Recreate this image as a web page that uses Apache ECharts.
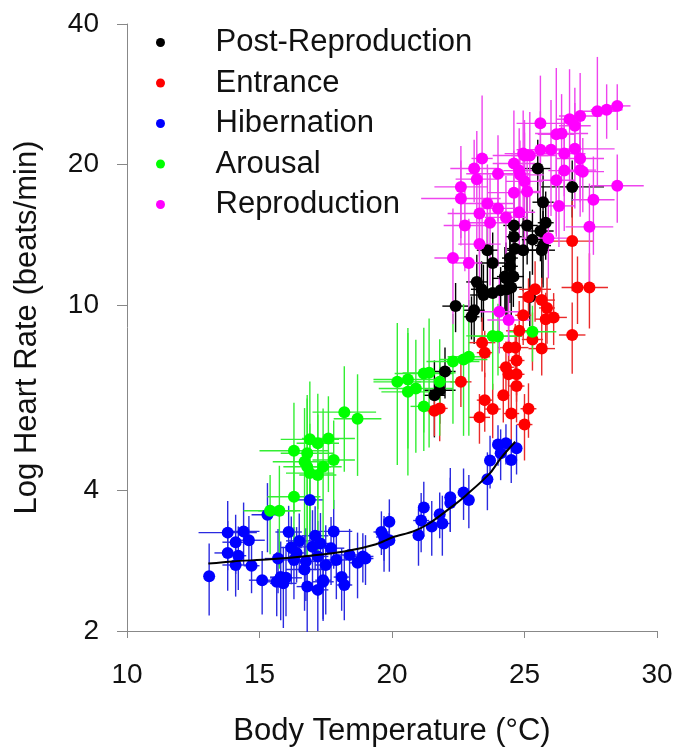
<!DOCTYPE html>
<html><head><meta charset="utf-8">
<script src="https://cdn.jsdelivr.net/npm/echarts@6/dist/echarts.min.js"></script>
<style>html,body{margin:0;padding:0;background:#fff}#c{width:678px;height:751px}</style>
</head><body><div id="c"></div>
<script>
// Each point: [body temperature °C, heart rate beats/min, ± temperature error, ± heart-rate error]
const seriesNames = ['Post-Reproduction', 'Entrance', 'Hibernation', 'Arousal', 'Reproduction'];

const postReproduction = [
  [22.4, 9.94, 0.5, 1.2], [23.1, 9.74, 0.4, 1.5], [23.0, 9.43, 0.3, 1.0], [23.8, 12.3, 0.6, 2.0],
  [23.2, 11.2, 0.4, 1.6], [23.8, 10.6, 0.3, 1.8], [24.3, 11.4, 0.5, 2.2], [24.5, 10.9, 0.4, 1.5],
  [24.1, 10.75, 0.3, 1.3], [25.2, 10.4, 0.4, 1.4], [23.45, 10.5, 0.5, 1.7], [24.45, 12.1, 0.3, 2.0],
  [22.0, 7.2, 0.4, 0.9], [21.6, 6.4, 0.4, 1.2], [21.8, 6.56, 0.6, 1.0], [25.5, 19.6, 0.5, 3.0],
  [26.8, 17.9, 1.2, 2.5], [25.7, 16.6, 0.4, 3.0], [25.8, 15.0, 0.3, 2.5], [24.6, 14.8, 0.4, 2.8],
  [25.6, 14.4, 0.5, 2.0], [25.7, 13.4, 0.3, 2.5], [25.3, 13.8, 0.4, 2.2], [23.6, 13.1, 0.4, 2.6],
  [24.45, 12.6, 0.3, 1.8], [24.95, 13.1, 0.6, 2.4], [24.34, 10.8, 0.3, 1.4], [23.38, 10.8, 0.4, 1.6],
  [24.64, 13.2, 0.3, 2.0], [25.1, 14.8, 0.4, 2.6], [24.6, 14.0, 0.3, 2.2], [25.65, 13.1, 0.5, 2.0],
  [24.26, 11.5, 0.3, 1.8], [24.58, 11.5, 0.4, 1.6]
];

const entrance = [
  [27.0, 10.9, 0.6, 1.8], [27.45, 10.9, 0.7, 2.0], [26.8, 8.62, 0.5, 1.5], [26.1, 9.4, 0.5, 1.2],
  [25.8, 9.32, 0.4, 1.3], [25.85, 9.85, 0.3, 1.6], [25.65, 10.24, 0.5, 1.2], [25.4, 10.8, 0.6, 1.6],
  [25.65, 8.06, 0.5, 1.0], [25.3, 8.43, 0.4, 1.2], [24.95, 9.5, 0.3, 1.3], [25.15, 10.4, 0.4, 1.0],
  [23.4, 8.3, 0.5, 1.1], [23.5, 7.9, 0.3, 0.9], [24.4, 8.1, 0.4, 1.4], [24.65, 8.1, 0.5, 1.0],
  [24.7, 7.6, 0.3, 1.2], [24.3, 7.35, 0.3, 1.0], [24.4, 7.1, 0.2, 1.3], [24.7, 7.1, 0.3, 0.9],
  [24.7, 6.7, 0.3, 1.1], [24.2, 6.4, 0.2, 0.8], [23.5, 6.25, 0.3, 0.9], [23.8, 5.98, 0.3, 0.8],
  [23.3, 5.74, 0.4, 0.7], [24.5, 5.85, 0.3, 0.9], [25.15, 5.99, 0.3, 0.8], [25.0, 5.54, 0.3, 0.9],
  [24.8, 8.8, 0.5, 1.4], [26.8, 13.7, 0.8, 3.0], [21.6, 5.93, 0.3, 0.7], [21.8, 6.0, 0.3, 0.9],
  [22.6, 6.84, 0.4, 0.8]
];

const hibernation = [
  [13.1, 2.62, 0.1, 0.46], [13.8, 3.25, 1.1, 0.55], [14.4, 3.27, 0.6, 0.5], [14.1, 3.10, 0.5, 0.45],
  [14.6, 3.13, 0.6, 0.4], [13.8, 2.94, 0.5, 0.5], [14.2, 2.90, 0.3, 0.45], [14.1, 2.77, 0.5, 0.4],
  [14.7, 2.76, 0.3, 0.35], [15.1, 2.57, 0.5, 0.4], [15.3, 3.55, 0.6, 0.6], [15.8, 2.61, 0.4, 0.5],
  [16.0, 2.60, 0.6, 0.45], [15.7, 2.86, 0.5, 0.45], [16.2, 3.02, 0.4, 0.5], [16.5, 3.12, 0.5, 0.45],
  [16.7, 2.71, 0.7, 0.5], [16.4, 2.94, 0.3, 0.4], [16.9, 3.82, 0.5, 0.7], [17.0, 3.03, 0.6, 0.6],
  [17.2, 2.89, 0.4, 0.55], [17.3, 3.08, 0.5, 0.5], [17.5, 2.77, 0.4, 0.6], [17.4, 2.57, 0.3, 0.45],
  [17.8, 3.27, 0.7, 0.55], [17.9, 2.84, 0.4, 0.5], [18.1, 2.61, 0.3, 0.4], [18.4, 2.91, 0.5, 0.4],
  [18.7, 2.80, 0.3, 0.45], [18.9, 2.89, 0.4, 0.35], [19.6, 3.26, 0.3, 0.35], [19.7, 3.08, 0.3, 0.4],
  [19.9, 3.43, 0.2, 0.4], [19.7, 3.18, 0.3, 0.35], [19.9, 3.13, 0.2, 0.45], [21.0, 3.21, 0.2, 0.45],
  [21.2, 3.68, 0.2, 0.5], [21.1, 3.45, 0.3, 0.5], [21.5, 3.35, 0.2, 0.45], [21.8, 3.56, 0.2, 0.4],
  [21.9, 3.40, 0.3, 0.5], [22.2, 3.87, 0.2, 0.6], [22.2, 3.76, 0.2, 0.5], [22.7, 3.96, 0.2, 0.5],
  [22.9, 3.82, 0.2, 0.5], [23.6, 4.23, 0.2, 0.6], [23.7, 4.64, 0.2, 0.6], [24.0, 5.02, 0.2, 0.5],
  [24.1, 4.81, 0.2, 0.6], [24.5, 4.65, 0.2, 0.5], [24.7, 4.93, 0.2, 0.6], [24.3, 5.05, 0.2, 0.5],
  [16.75, 2.82, 0.5, 0.5], [17.2, 2.45, 0.4, 0.45], [17.7, 3.01, 0.5, 0.5], [16.8, 2.49, 0.4, 0.5],
  [18.2, 2.51, 0.3, 0.4], [15.65, 2.55, 0.4, 0.4], [15.9, 2.53, 0.5, 0.5], [17.4, 2.55, 0.4, 0.45],
  [19.0, 2.86, 0.3, 0.35], [16.3, 2.84, 0.4, 0.5], [17.1, 3.20, 0.5, 0.5], [16.1, 3.26, 0.5, 0.45]
];

const arousal = [
  [15.4, 3.62, 1.0, 0.7], [15.75, 3.62, 0.8, 0.9], [16.3, 3.88, 1.0, 1.0], [16.9, 4.36, 0.9, 1.2],
  [17.2, 4.32, 0.7, 1.5], [18.2, 5.89, 1.2, 1.5], [18.7, 5.70, 0.9, 1.4], [16.3, 4.87, 1.3, 1.3],
  [16.9, 5.15, 1.1, 1.7], [17.2, 5.05, 0.8, 1.4], [17.6, 5.17, 1.0, 1.2], [16.7, 4.61, 1.2, 1.4],
  [16.8, 4.50, 0.9, 1.8], [17.4, 4.50, 0.7, 1.5], [17.8, 4.65, 0.8, 1.0], [16.8, 4.81, 1.0, 1.6],
  [20.2, 6.84, 0.9, 2.3], [20.6, 6.92, 1.3, 2.0], [20.9, 6.62, 1.4, 1.8], [20.6, 6.51, 1.0, 2.2],
  [21.2, 7.13, 1.1, 1.8], [21.4, 7.15, 1.0, 2.2], [21.8, 6.84, 0.9, 1.6], [22.3, 7.56, 1.0, 2.0],
  [22.7, 7.64, 0.9, 2.4], [22.9, 7.74, 0.8, 2.5], [21.2, 6.06, 0.5, 1.2], [23.8, 8.58, 1.0, 2.0],
  [24.0, 8.56, 0.9, 1.5], [25.3, 8.76, 0.9, 1.2]
];

const reproduction = [
  [28.5, 26.7, 0.5, 3.0], [28.1, 26.2, 0.6, 3.5], [27.75, 26.0, 0.7, 8.0], [27.1, 25.4, 0.8, 6.0],
  [26.7, 25.0, 0.5, 7.0], [26.9, 24.2, 0.6, 5.0], [25.6, 24.5, 0.9, 6.5], [26.2, 23.2, 0.7, 9.0],
  [26.4, 23.3, 1.0, 5.0], [25.6, 21.5, 0.9, 4.5], [26.0, 21.5, 0.6, 6.0], [26.9, 21.6, 1.5, 5.5],
  [26.5, 21.1, 0.8, 4.0], [25.0, 20.9, 1.2, 4.0], [23.4, 20.6, 0.4, 7.5], [22.6, 17.9, 1.0, 4.0],
  [22.6, 16.9, 1.5, 3.5], [23.2, 18.6, 0.8, 5.0], [23.1, 19.6, 0.9, 3.0], [24.0, 19.1, 1.2, 4.0],
  [24.6, 20.1, 0.8, 6.0], [24.8, 19.4, 0.6, 4.5], [25.0, 18.4, 0.7, 5.0], [24.6, 17.4, 1.0, 4.0],
  [25.1, 17.5, 0.5, 3.5], [25.2, 20.9, 0.7, 5.0], [27.1, 20.6, 0.9, 4.0], [26.5, 19.4, 0.6, 5.0],
  [27.2, 19.3, 0.8, 3.5], [26.2, 18.5, 0.7, 4.5], [28.5, 18.0, 1.0, 3.0], [27.6, 16.8, 0.8, 4.0],
  [26.3, 16.3, 0.6, 3.0], [23.6, 16.5, 1.0, 3.5], [24.0, 16.1, 0.7, 4.0], [23.3, 15.7, 1.2, 3.0],
  [24.3, 15.4, 0.8, 3.5], [23.7, 15.0, 1.0, 4.0], [24.8, 15.8, 0.6, 3.0], [22.75, 14.8, 0.8, 3.0],
  [27.45, 14.7, 0.9, 3.5], [23.3, 13.5, 0.8, 3.0], [25.9, 13.9, 1.0, 2.5], [22.3, 12.6, 0.7, 3.5],
  [22.9, 12.3, 0.5, 3.0], [24.05, 9.67, 1.0, 1.8], [24.4, 9.28, 0.8, 1.5], [24.95, 21.1, 0.7, 5.0],
  [27.1, 19.45, 0.6, 4.0], [24.83, 19.0, 0.9, 3.5]
];

// fitted hibernation curve
const curveT = [13.07, 14.0, 15.4, 16.9, 18.2, 19.4, 20.05, 20.8, 21.4, 22.25, 22.8, 23.7, 24.1, 24.65];
const curveHR = [2.79, 2.82, 2.85, 2.90, 2.96, 3.07, 3.18, 3.27, 3.40, 3.69, 3.91, 4.36, 4.69, 5.09];

const xTicks = [10, 15, 20, 25, 30];
const yTicks = [2, 4, 10, 20, 40];

const FONT = 'Liberation Sans, Arial, sans-serif';
const lg = Math.log10;
const groups = [
  { name: seriesNames[0], data: postReproduction, dot: '#000000', bar: '#000000' },
  { name: seriesNames[1], data: entrance, dot: '#ff0000', bar: '#ea2a2a' },
  { name: seriesNames[2], data: hibernation, dot: '#0000ff', bar: '#2a2ae0' },
  { name: seriesNames[3], data: arousal, dot: '#00ff00', bar: '#33ee33' },
  { name: seriesNames[4], data: reproduction, dot: '#ff00ff', bar: '#ee44ee' }
];

const series = [];
groups.forEach(function (g) {
  series.push({
    type: 'custom',
    name: g.name + ' error',
    silent: true,
    clip: false,
    encode: { x: 0, y: 1 },
    data: g.data.map(d => [d[0], lg(d[1]), d[2], lg(d[1] + d[3]), lg(Math.max(d[1] - d[3], 0.5))]),
    renderItem: function (params, api) {
      const t = api.value(0), y = api.value(1), et = api.value(2), yh = api.value(3), yl = api.value(4);
      const a = api.coord([t - et, y]), b = api.coord([t + et, y]);
      const c = api.coord([t, yh]), d = api.coord([t, yl]);
      const style = { stroke: g.bar, lineWidth: 1.4 };
      return {
        type: 'group',
        children: [
          { type: 'line', shape: { x1: a[0], y1: a[1], x2: b[0], y2: b[1] }, style: style },
          { type: 'line', shape: { x1: c[0], y1: c[1], x2: d[0], y2: d[1] }, style: style }
        ]
      };
    }
  });
  series.push({
    type: 'scatter',
    name: g.name,
    symbol: 'circle',
    symbolSize: 12,
    itemStyle: { color: g.dot, opacity: 1 },
    data: g.data.map(d => [d[0], lg(d[1])])
  });
});
series.push({
  type: 'line',
  name: 'fit',
  smooth: 0.3,
  symbol: 'none',
  silent: true,
  lineStyle: { color: '#000', width: 2 },
  data: curveT.map((t, i) => [t, lg(curveHR[i])])
});

const chart = echarts.init(document.getElementById('c'), null, { renderer: 'canvas' });
chart.setOption({
  animation: false,
  backgroundColor: '#fff',
  textStyle: { fontFamily: FONT },
  grid: { left: 127, right: 21, top: 24, bottom: 120, containLabel: false, outerBoundsMode: 'none' },
  legend: {
    data: seriesNames.map(n => ({ name: n, icon: 'circle' })),
    orient: 'vertical',
    left: 156,
    top: 27,
    padding: 0,
    itemWidth: 100,
    itemHeight: 9,
    itemGap: 9.5,
    selectedMode: false,
    textStyle: { fontSize: 31, lineHeight: 30, color: '#111', fontFamily: FONT }
  },
  xAxis: {
    type: 'value',
    min: xTicks[0],
    max: xTicks[xTicks.length - 1],
    interval: 5,
    name: 'Body Temperature (°C)',
    nameLocation: 'middle',
    nameGap: 85,
    nameTextStyle: { fontSize: 31, color: '#111', fontFamily: FONT },
    axisLine: { onZero: false, lineStyle: { color: '#888', width: 1 } },
    axisTick: { show: true, length: 7, lineStyle: { color: '#888' } },
    axisLabel: { fontSize: 28, color: '#111', margin: 30, fontFamily: FONT },
    splitLine: { show: false }
  },
  yAxis: {
    type: 'value',
    min: lg(yTicks[0]),
    max: lg(yTicks[yTicks.length - 1]),
    name: 'Log Heart Rate (beats/min)',
    nameLocation: 'middle',
    nameGap: 84,
    nameTextStyle: { fontSize: 31, color: '#111', fontFamily: FONT },
    axisLine: { show: true, onZero: false, lineStyle: { color: '#888', width: 1 } },
    axisTick: { show: true, length: 10, customValues: yTicks.map(lg), lineStyle: { color: '#888' } },
    axisLabel: {
      fontSize: 28, color: '#111', margin: 28, fontFamily: FONT,
      customValues: yTicks.map(lg),
      formatter: v => String(Math.round(Math.pow(10, v)))
    },
    splitLine: { show: false }
  },
  series: series
});
</script>
</body></html>
